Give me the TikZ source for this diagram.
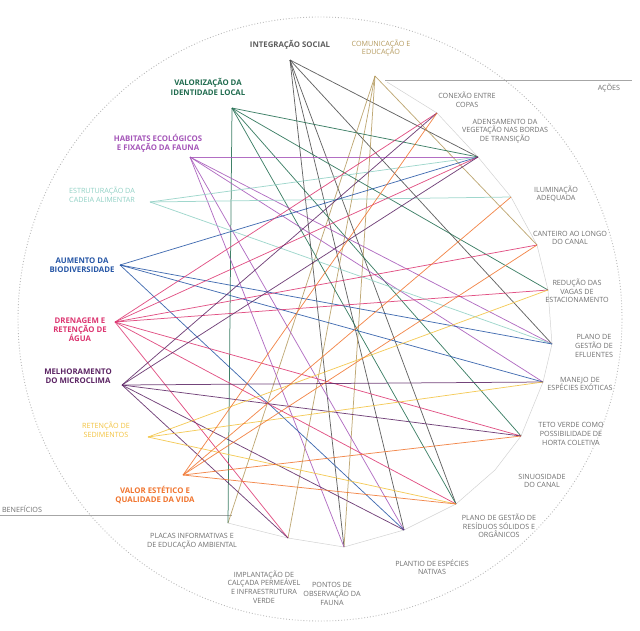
\documentclass[tikz,border=0pt]{standalone}
\usepackage{fontspec}
\setmainfont{Open Sans}
\begin{document}
\begin{tikzpicture}[x=1pt,y=-1pt,
  lbl/.style={font=\fontsize{7.2}{8.6}\selectfont, align=center, inner sep=1pt},
  blbl/.style={lbl, font=\fontsize{7.8}{9.2}\selectfont\bfseries},
  alab/.style={lbl, text=acol},
  pt/.style={coordinate},
  ln/.style={line width=0.75pt, opacity=0.85}]
\definecolor{acol}{HTML}{6E6E6E}
\definecolor{cInt}{HTML}{4A4A4A}
\definecolor{cCom}{HTML}{B49A5E}
\definecolor{cVal}{HTML}{1F6B4E}
\definecolor{cHab}{HTML}{A455B8}
\definecolor{cEst}{HTML}{8FD0C4}
\definecolor{cAum}{HTML}{2555A5}
\definecolor{cDre}{HTML}{DC3570}
\definecolor{cMel}{HTML}{5B2363}
\definecolor{cSed}{HTML}{F2C23E}
\definecolor{cEst2}{HTML}{F0742E}
\useasboundingbox (0,0) rectangle (640,630);
% outer dotted circle
\draw[gray!55, line width=0.9pt, dotted] (320,319) circle (302);
% division lines
\node[pt] (aL) at (385,80) {}; \node[pt] (aR) at (632,80) {};
\node[pt] (bL) at (0,515) {}; \node[pt] (bR) at (232,515) {};
\draw[gray!70, line width=0.4pt] (aL) -- (aR);
\draw[gray!70, line width=0.4pt] (bL) -- (bR);
\node[lbl, text=acol] (acoes) at (609,88) {AÇÕES};
\node[lbl, text=acol] (benef) at (22,509) {BENEFÍCIOS};
% benefit points
\node[pt] (B1) at (290,60) {};
\node[pt] (B2) at (375,76) {};
\node[pt] (B3) at (232,108) {};
\node[pt] (B4) at (190,157) {};
\node[pt] (B5) at (150,202) {};
\node[pt] (B6) at (120,265) {};
\node[pt] (B7) at (115,322) {};
\node[pt] (B8) at (122,385) {};
\node[pt] (B9) at (148,437) {};
\node[pt] (B10) at (183,475) {};
% action points
\node[pt] (A1) at (437,113) {};
\node[pt] (A2) at (478,157) {};
\node[pt] (A3) at (511,197) {};
\node[pt] (A4) at (537,245) {};
\node[pt] (A5) at (548,290) {};
\node[pt] (A6) at (552,344) {};
\node[pt] (A7) at (543,382) {};
\node[pt] (A8) at (521,436) {};
\node[pt] (A9) at (495,470) {};
\node[pt] (A10) at (456,504) {};
\node[pt] (A11) at (404,530) {};
\node[pt] (A12) at (344,547) {};
\node[pt] (A13) at (288,538) {};
\node[pt] (A14) at (228,523) {};
% inner arc through actions
\draw[gray!35, line width=0.5pt] (387,82) -- (A1) -- (A2) -- (A3) -- (A4) -- (A5) -- (A6) -- (A7) -- (A8) -- (A9) -- (A10) -- (A11) -- (A12) -- (A13) -- (A14);
% benefit labels
\node[blbl, text=cInt!90] (L1) at (290,45) {INTEGRAÇÃO SOCIAL};
\node[lbl, text=cCom] (L2) at (381,48) {COMUNICAÇÃO E\\EDUCAÇÃO};
\node[blbl, text=cVal] (L3) at (208,87) {VALORIZAÇÃO DA\\IDENTIDADE LOCAL};
\node[blbl, text=cHab] (L4) at (158,143) {HABITATS ECOLÓGICOS\\E FIXAÇÃO DA FAUNA};
\node[lbl, text=cEst] (L5) at (102,195) {ESTRUTURAÇÃO DA\\CADEIA ALIMENTAR};
\node[blbl, text=cAum] (L6) at (82,265) {AUMENTO DA\\BIODIVERSIDADE};
\node[blbl, text=cDre] (L7) at (80,330) {DRENAGEM E\\RETENÇÃO DE\\ÁGUA};
\node[blbl, text=cMel] (L8) at (78,376) {MELHORAMENTO\\DO MICROCLIMA};
\node[lbl, text=cSed] (L9) at (106,430) {RETENÇÃO DE\\SEDIMENTOS};
\node[blbl, text=cEst2] (L10) at (155,495) {VALOR ESTÉTICO E\\QUALIDADE DA VIDA};
% action labels
\node[alab] (T1) at (467,100) {CONEXÃO ENTRE\\COPAS};
\node[alab] (T2) at (505,131) {ADENSAMENTO DA\\VEGETAÇÃO NAS BORDAS\\DE TRANSIÇÃO};
\node[alab] (T3) at (556,194) {ILUMINAÇÃO\\ADEQUADA};
\node[alab] (T4) at (570,238) {CANTEIRO AO LONGO\\DO CANAL};
\node[alab] (T5) at (577,291) {REDUÇÃO DAS\\VAGAS DE\\ESTACIONAMENTO};
\node[alab] (T6) at (594,346) {PLANO DE\\GESTÃO DE\\EFLUENTES};
\node[alab] (T7) at (580,384) {MANEJO DE\\ESPÉCIES EXÓTICAS};
\node[alab] (T8) at (571,434) {TETO VERDE COMO\\POSSIBILIDADE DE\\HORTA COLETIVA};
\node[alab] (T9) at (542,481) {SINUOSIDADE\\DO CANAL};
\node[alab] (T10) at (499,526) {PLANO DE GESTÃO DE\\RESÍDUOS SÓLIDOS E\\ORGÂNICOS};
\node[alab] (T11) at (432,567) {PLANTIO DE ESPÉCIES\\NATIVAS};
\node[alab] (T12) at (332,594) {PONTOS DE\\OBSERVAÇÃO DA\\FAUNA};
\node[alab] (T13) at (264,587) {IMPLANTAÇÃO DE\\CALÇADA PERMEÁVEL\\E INFRAESTRUTURA\\VERDE};
\node[alab] (T14) at (192,541) {PLACAS INFORMATIVAS E\\DE EDUCAÇÃO AMBIENTAL};
% connectors
\foreach \a in {A2,A6,A11,A12,A10} \draw[ln, cInt] (B1) -- (\a);
\foreach \a in {A14,A13,A12,A4} \draw[ln, cCom] (B2) -- (\a);
\foreach \a in {A2,A14,A5,A10,A8} \draw[ln, cVal] (B3) -- (\a);
\foreach \a in {A2,A6,A11,A12,A7} \draw[ln, cHab] (B4) -- (\a);
\foreach \a in {A2,A6,A3} \draw[ln, cEst] (B5) -- (\a);
\foreach \a in {A2,A6,A7,A11} \draw[ln, cAum] (B6) -- (\a);
\foreach \a in {A1,A2,A4,A5,A8,A10,A13} \draw[ln, cDre] (B7) -- (\a);
\foreach \a in {A1,A2,A8,A11,A7,A13} \draw[ln, cMel] (B8) -- (\a);
\foreach \a in {A7,A10,A5} \draw[ln, cSed] (B9) -- (\a);
\foreach \a in {A1,A4,A10,A8,A3} \draw[ln, cEst2] (B10) -- (\a);
\end{tikzpicture}
\end{document}
